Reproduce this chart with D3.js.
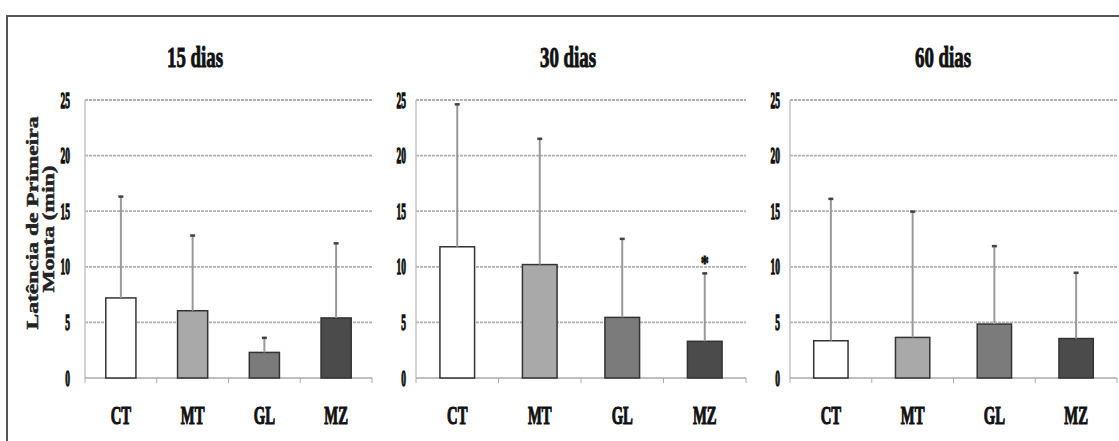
<!DOCTYPE html>
<html><head><meta charset="utf-8">
<script src="https://cdn.jsdelivr.net/npm/d3@7"></script>
<style>body{margin:0;background:#fff;overflow:hidden}</style>
</head><body>
<svg id="c" width="1119" height="441"></svg>
<script>
const categories = ["CT", "MT", "GL", "MZ"];
const panelTitles = ["15 dias", "30 dias", "60 dias"];
const means15 = [7.2, 6.05, 2.3, 5.4];
const sd15 = [9.2, 6.85, 1.4, 6.8];
const means30 = [11.8, 10.2, 5.45, 3.3];
const sd30 = [12.9, 11.4, 7.15, 6.2];
const means60 = [3.35, 3.65, 4.85, 3.55];
const sd60 = [12.85, 11.4, 7.1, 6.0];
const yTicks = [0, 5, 10, 15, 20, 25];
const significant30 = ["MZ"];
const yTitle1 = "Latência de Primeira";
const yTitle2 = "Monta (min)";

const colors = ["#ffffff", "#a9a9a9", "#7b7b7b", "#4b4b4b"];
const serif = "'Liberation Serif','Times New Roman',serif";

const svg = d3.select("#c");
svg.append("rect").attr("width", 1119).attr("height", 441).attr("fill", "#fff");
// outer border
svg.append("path").attr("d", "M7,441 V16 H1119").attr("fill", "none")
  .attr("stroke", "#555").attr("stroke-width", 2);

const y = d3.scaleLinear().domain([0, 25]).range([378, 100]);

const panels = [
  {title: panelTitles[0], means: means15, sd: sd15, x0: 85, x1: 372, titleX: 195, labOff: 15, sig: []},
  {title: panelTitles[1], means: means30, sd: sd30, x0: 416, x1: 746, titleX: 568, labOff: 10, sig: significant30},
  {title: panelTitles[2], means: means60, sd: sd60, x0: 790, x1: 1117, titleX: 943, labOff: 10, sig: []}
];

function condensed(g, x, yy, txt, size, sx, anchor, sw) {
  g.append("g").attr("transform", `translate(${x},${yy}) scale(${sx},1)`)
    .append("text").attr("text-anchor", anchor).attr("font-family", serif)
    .attr("font-weight", "bold").attr("font-size", size).attr("fill", "#111")
    .attr("stroke", "#111").attr("stroke-width", sw || 0.8).text(txt);
}

panels.forEach(p => {
  const g = svg.append("g");
  const x = d3.scaleBand().domain(categories).range([p.x0, p.x1]).paddingInner(0.58).paddingOuter(0.29);
  const xb = d3.scaleBand().domain(categories).range([p.x0, p.x1]);

  // gridlines
  g.selectAll("line.grid").data(yTicks.filter(t => t > 0)).join("line")
    .attr("x1", p.x0).attr("x2", p.x1).attr("y1", d => y(d)).attr("y2", d => y(d))
    .attr("stroke", "#b0b0b0").attr("stroke-width", 1.8).attr("stroke-dasharray", "3,1");

  // y axis line
  g.append("line").attr("x1", p.x0).attr("x2", p.x0).attr("y1", y(25)).attr("y2", y(0))
    .attr("stroke", "#c4c4c4").attr("stroke-width", 1.5);

  // x axis line with ticks at band boundaries
  g.append("line").attr("x1", p.x0).attr("x2", p.x1).attr("y1", y(0)).attr("y2", y(0))
    .attr("stroke", "#aaa").attr("stroke-width", 1.5);
  const bounds = categories.map(c => xb(c)).concat([p.x1]);
  g.selectAll("line.xt").data(bounds).join("line")
    .attr("x1", d => d).attr("x2", d => d).attr("y1", y(0)).attr("y2", y(0) + 5)
    .attr("stroke", "#aaa").attr("stroke-width", 1);

  // y tick labels
  yTicks.forEach(t => condensed(g, p.x0 - p.labOff, y(t) + 7.5, String(t), 22.5, 0.42, "end", 1.3));

  // title
  condensed(g, p.titleX, 67, p.title, 29.5, 0.64, "middle", 1.0);

  // bars
  g.selectAll("rect.bar").data(categories).join("rect")
    .attr("x", c => x(c)).attr("width", x.bandwidth())
    .attr("y", (c, i) => y(p.means[i])).attr("height", (c, i) => y(0) - y(p.means[i]))
    .attr("fill", (c, i) => colors[i]).attr("stroke", "#333").attr("stroke-width", 1.5);

  // error bars
  g.selectAll("line.err").data(categories).join("line")
    .attr("x1", c => x(c) + x.bandwidth() / 2).attr("x2", c => x(c) + x.bandwidth() / 2)
    .attr("y1", (c, i) => y(p.means[i])).attr("y2", (c, i) => y(p.means[i] + p.sd[i]))
    .attr("stroke", "#999").attr("stroke-width", 2);
  g.selectAll("line.cap").data(categories).join("line")
    .attr("x1", c => x(c) + x.bandwidth() / 2 - 2.5).attr("x2", c => x(c) + x.bandwidth() / 2 + 2.5)
    .attr("y1", (c, i) => y(p.means[i] + p.sd[i]) + 1).attr("y2", (c, i) => y(p.means[i] + p.sd[i]) + 1)
    .attr("stroke", "#444").attr("stroke-width", 2.5);

  // significance marks
  p.sig.forEach(c => {
    const i = categories.indexOf(c);
    condensed(g, x(c) + x.bandwidth() / 2, y(p.means[i] + p.sd[i]) - 2, "*", 20, 0.8, "middle", 0.8);
  });

  // x labels
  categories.forEach(c => condensed(g, x(c) + x.bandwidth() / 2, 424, c, 24.5, 0.6, "middle", 1.1));
});

// y axis title
function yTitle(txt, bx, cy, len) {
  svg.append("g").attr("transform", `translate(${bx},${cy}) rotate(-90) scale(1,0.75)`)
    .append("text").attr("text-anchor", "middle").attr("font-family", serif)
    .attr("font-weight", "bold").attr("font-size", 22).attr("fill", "#222")
    .attr("stroke", "#222").attr("stroke-width", 0.6)
    .attr("textLength", len).attr("lengthAdjust", "spacingAndGlyphs").text(txt);
}
yTitle(yTitle1, 38, 223, 213);
yTitle(yTitle2, 54, 229, 127);
</script>
</body></html>
